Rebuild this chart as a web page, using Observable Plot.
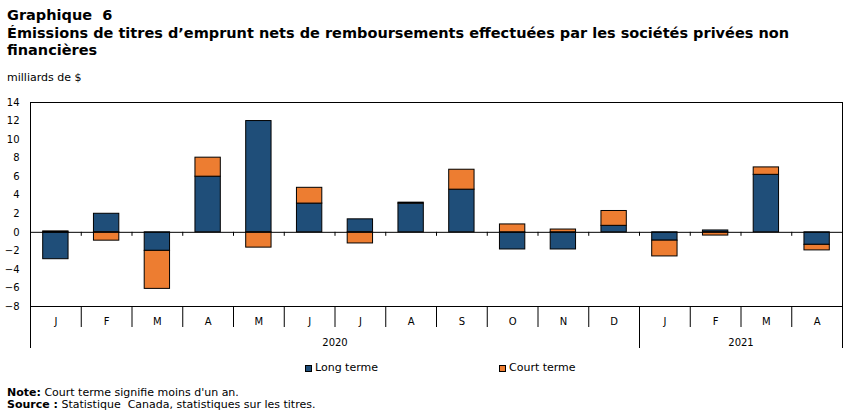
<!DOCTYPE html>
<html><head><meta charset="utf-8">
<script src="https://cdn.jsdelivr.net/npm/d3@7"></script>
<script src="https://cdn.jsdelivr.net/npm/@observablehq/plot@0.6"></script>
<style>
body{margin:0;background:#fff;font-family:"DejaVu Sans",Verdana,sans-serif;color:#000;width:851px;height:417px;position:relative;overflow:hidden}
.abs{position:absolute;white-space:nowrap}
#title{left:7px;top:7px;font-weight:bold;font-size:14.5px;line-height:17.5px;white-space:normal;width:835px}
#unit{left:7px;top:72px;font-size:11px;line-height:12px}
#chart{left:0;top:90px}
.sw{position:absolute;width:5px;height:5px;border:1px solid #000}
.lg{font-size:11px;line-height:13px}
#note{left:7px;top:387px;font-size:11px;line-height:12px}
</style></head>
<body>
<div id="title" class="abs">Graphique&nbsp; 6<br>Émissions de titres d’emprunt nets de remboursements effectuées par les sociétés privées non financières</div>
<div id="unit" class="abs">milliards de $</div>
<div id="chart" class="abs"></div>
<div id="legend"></div>
<div id="note" class="abs"><b>Note:</b> Court terme signifie moins d'un an.<br><b>Source :</b> Statistique&nbsp; Canada, statistiques sur les titres.</div>
<script>
const months = ["J","F","M","A","M","J","J","A","S","O","N","D","J","F","M","A"];
const years = ["2020","2021"];
const yearStart = [0, 12];
const yearEnd = [12, 16];
const seriesNames = ["Long terme", "Court terme"];
const seriesColors = ["#1f4e79", "#ed7d31"];
const longTerm  = [-2.9, 2.0, -2.0, 6.0, 12.0, 3.1, 1.4, 3.1, 4.6, -1.85, -1.85, 0.7, -0.9, 0.2, 6.2, -1.35];
const shortTerm = [0.1, -0.9, -4.1, 2.05, -1.65, 1.7, -1.2, 0.1, 2.15, 0.85, 0.3, 1.6, -1.7, -0.35, 0.8, -0.6];
const yTicks = d3.range(-8, 15, 2);

const rows = [];
months.forEach((m, i) => {
  rows.push({i, series: seriesNames[0], value: longTerm[i]});
  rows.push({i, series: seriesNames[1], value: shortTerm[i]});
});
const boundaries = d3.range(1, months.length);
const majorBounds = [...yearStart, yearEnd[yearEnd.length - 1]];
const monthCenters = months.map((m, i) => i + 0.5);
const yearCenters = years.map((y, k) => (yearStart[k] + yearEnd[k]) / 2);

const chart = Plot.plot({
  width: 851, height: 265,
  marginTop: 12, marginBottom: 49, marginLeft: 30, marginRight: 9,
  style: {fontFamily: "DejaVu Sans, Verdana, sans-serif", fontSize: "10px", color: "#000", background: "#fff"},
  x: {type: "linear", domain: [0, months.length]},
  y: {domain: [-8, 14]},
  color: {domain: seriesNames, range: seriesColors},
  marks: [
    Plot.rectY(rows, {x1: "i", x2: d => d.i + 1, y: "value", fill: "series", stroke: "#000", strokeWidth: 1, insetLeft: 12.7, insetRight: 12.7}),
    Plot.ruleY([0], {stroke: "#000"}),
    Plot.ruleX(boundaries, {x: d => d, y1: 0, y2: 0, insetBottom: -4, stroke: "#000"}),
    Plot.frame({stroke: "#000"}),
    Plot.axisY({ticks: yTicks, tickSize: 0, tickPadding: 11, fontSize: 10, label: null}),
    Plot.axisX({ticks: boundaries, tickSize: 21, tickFormat: () => "", label: null}),
    Plot.axisX({ticks: majorBounds, tickSize: 42, tickFormat: () => "", label: null}),
    Plot.axisX({ticks: monthCenters, tickSize: 0, tickPadding: 11, tickFormat: d => months[Math.round(d - 0.5)], fontSize: 10, label: null}),
    Plot.axisX({ticks: yearCenters, tickSize: 0, tickPadding: 32, tickFormat: d => years[yearCenters.indexOf(d)], fontSize: 10, label: null})
  ]
});
document.getElementById("chart").appendChild(chart);

const lg = document.getElementById("legend");
const legendX = [305, 499];
seriesNames.forEach((s, k) => {
  const sw = document.createElement("div");
  sw.className = "sw";
  sw.style.left = legendX[k] + "px";
  sw.style.top = "365px";
  sw.style.background = seriesColors[k];
  lg.appendChild(sw);
  const t = document.createElement("div");
  t.className = "abs lg";
  t.style.left = (legendX[k] + 10) + "px";
  t.style.top = "361px";
  t.textContent = s;
  lg.appendChild(t);
});
</script>
</body></html>
